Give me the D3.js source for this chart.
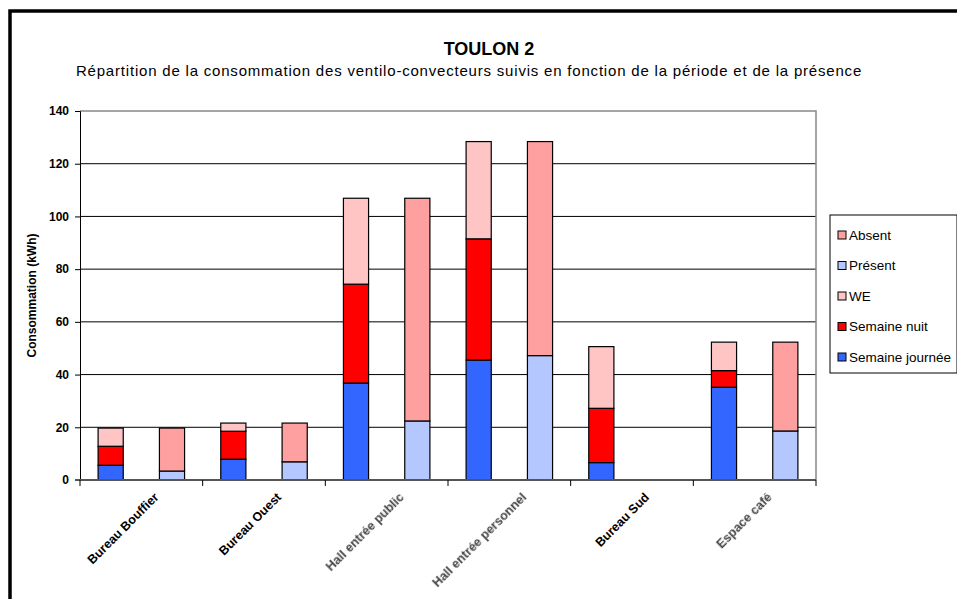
<!DOCTYPE html>
<html>
<head>
<meta charset="utf-8">
<script src="https://cdn.jsdelivr.net/npm/d3@7"></script>
<style>
  body { margin: 0; background: #fff; }
  svg { font-family: "Liberation Sans", Arial, sans-serif; }
</style>
</head>
<body>
<div id="chart"></div>
<script>
  var lieux = ["Bureau Bouffier", "Bureau Ouest", "Hall entrée public", "Hall entrée personnel", "Bureau Sud", "Espace café"];
  var lieuxFlous = ["Hall entrée public", "Hall entrée personnel", "Espace café"];

  // barre "période"
  var semaineJournee = [5.6, 7.9, 36.8, 45.5, 6.6, 35.2];
  var semaineNuit    = [7.2, 10.6, 37.5, 46.0, 20.6, 6.3];
  var we             = [6.9, 3.1, 32.6, 36.9, 23.4, 10.8];
  // barre "présence"
  var present        = [3.4, 6.9, 22.4, 47.2, 0, 18.6];
  var absent         = [16.3, 14.7, 84.5, 81.2, 0, 33.7];

  var yTicks = [0, 20, 40, 60, 80, 100, 120, 140];

  var width = 957, height = 599;
  var gauche = 80, droite = 816, haut = 111, bas = 480;

  var svg = d3.select("#chart").append("svg")
      .attr("width", width)
      .attr("height", height);

  svg.append("rect")
      .attr("x", 10).attr("y", 11)
      .attr("width", 1000).attr("height", 700)
      .attr("fill", "#fff")
      .attr("stroke", "#000")
      .attr("stroke-width", 3.5);

  svg.append("text")
      .attr("x", 489).attr("y", 55)
      .attr("text-anchor", "middle")
      .attr("font-size", 18).attr("font-weight", "bold")
      .text("TOULON 2");
  svg.append("text")
      .attr("x", 469).attr("y", 76)
      .attr("text-anchor", "middle")
      .attr("font-size", 15).attr("letter-spacing", 0.8)
      .text("Répartition de la consommation des ventilo-convecteurs suivis en fonction de la période et de la présence");

  var x = d3.scaleBand().domain(lieux).range([gauche, droite]);
  var xIn = d3.scaleBand().domain(["periode", "presence"])
      .range([0, x.bandwidth()])
      .paddingInner(0.59).paddingOuter(0.295);
  var y = d3.scaleLinear().domain([0, 140]).range([bas, haut]);

  // grille
  svg.selectAll(".grid")
      .data(yTicks.filter(function(d) { return d > 0 && d < 140; }))
    .enter().append("line")
      .attr("x1", gauche).attr("x2", droite)
      .attr("y1", function(d) { return y(d); })
      .attr("y2", function(d) { return y(d); })
      .attr("stroke", "#000").attr("stroke-width", 1);

  svg.append("path")
      .attr("d", "M" + gauche + "," + y(140) + "H" + droite + "V" + bas)
      .attr("fill", "none").attr("stroke", "#888").attr("stroke-width", 1.5);

  var couleurs = {
    "Semaine journée": "#3366ff",
    "Semaine nuit": "#ff0000",
    "WE": "#ffc4c4",
    "Présent": "#b4c7ff",
    "Absent": "#ffa0a0"
  };

  var periodeSeries = [["Semaine journée", semaineJournee], ["Semaine nuit", semaineNuit], ["WE", we]];
  var presenceSeries = [["Présent", present], ["Absent", absent]];

  function segments(series, barre) {
    var out = [];
    lieux.forEach(function(l, i) {
      var base = 0;
      series.forEach(function(s) {
        var v = s[1][i];
        if (v > 0) out.push({ lieu: l, barre: barre, nom: s[0], y0: base, y1: base + v });
        base += v;
      });
    });
    return out;
  }

  var segs = segments(periodeSeries, "periode").concat(segments(presenceSeries, "presence"));

  svg.selectAll(".seg")
      .data(segs)
    .enter().append("rect")
      .attr("class", "seg")
      .attr("x", function(d) { return x(d.lieu) + xIn(d.barre); })
      .attr("width", xIn.bandwidth())
      .attr("y", function(d) { return y(d.y1); })
      .attr("height", function(d) { return y(d.y0) - y(d.y1); })
      .attr("fill", function(d) { return couleurs[d.nom]; })
      .attr("stroke", "#000").attr("stroke-width", 1.2);

  // axe y
  var yAxis = svg.append("g")
      .attr("transform", "translate(" + gauche + ",0)")
      .call(d3.axisLeft(y).tickValues(yTicks).tickSize(5).tickPadding(6));
  yAxis.select(".domain").attr("stroke", "#000");
  yAxis.selectAll("text").attr("font-size", 12).attr("font-weight", "bold")
      .attr("font-family", "Liberation Sans, Arial, sans-serif").attr("fill", "#000");

  svg.append("text")
      .attr("transform", "translate(36," + ((haut + bas) / 2) + ") rotate(-90)")
      .attr("text-anchor", "middle")
      .attr("font-size", 12).attr("font-weight", "bold")
      .text("Consommation (kWh)");

  // axe x
  svg.append("line")
      .attr("x1", gauche - 5).attr("x2", droite)
      .attr("y1", bas).attr("y2", bas)
      .attr("stroke", "#555").attr("stroke-width", 2);
  svg.selectAll(".xtick")
      .data(lieux.concat(["fin"]))
    .enter().append("line")
      .attr("x1", function(d, i) { return gauche + i * x.step(); })
      .attr("x2", function(d, i) { return gauche + i * x.step(); })
      .attr("y1", bas).attr("y2", bas + 6)
      .attr("stroke", "#000").attr("stroke-width", 1);

  var defs = svg.append("defs");
  defs.append("filter").attr("id", "flou")
    .append("feGaussianBlur").attr("stdDeviation", 0.6);

  svg.selectAll(".xlab")
      .data(lieux)
    .enter().append("text")
      .attr("transform", function(d) {
        return "translate(" + (x(d) + x.bandwidth() / 2 + 18) + "," + (bas + 18) + ") rotate(-45)";
      })
      .attr("text-anchor", "end")
      .attr("font-size", 12.5).attr("font-weight", "bold")
      .attr("fill", function(d) { return lieuxFlous.indexOf(d) >= 0 ? "#444" : "#000"; })
      .attr("filter", function(d) { return lieuxFlous.indexOf(d) >= 0 ? "url(#flou)" : null; })
      .text(function(d) { return d; });

  // légende
  var legende = ["Absent", "Présent", "WE", "Semaine nuit", "Semaine journée"];
  svg.append("rect")
      .attr("x", 830).attr("y", 215).attr("width", 127).attr("height", 158)
      .attr("fill", "#fff").attr("stroke", "#000").attr("stroke-width", 1);
  var lg = svg.selectAll(".lg")
      .data(legende)
    .enter().append("g")
      .attr("transform", function(d, i) { return "translate(838," + (235 + i * 30.5) + ")"; });
  lg.append("rect")
      .attr("x", 0).attr("y", -4).attr("width", 8).attr("height", 8)
      .attr("fill", function(d) { return couleurs[d]; })
      .attr("stroke", "#000").attr("stroke-width", 1);
  lg.append("text")
      .attr("x", 11).attr("y", 4.5)
      .attr("font-size", 13.5)
      .text(function(d) { return d; });
</script>
</body>
</html>
